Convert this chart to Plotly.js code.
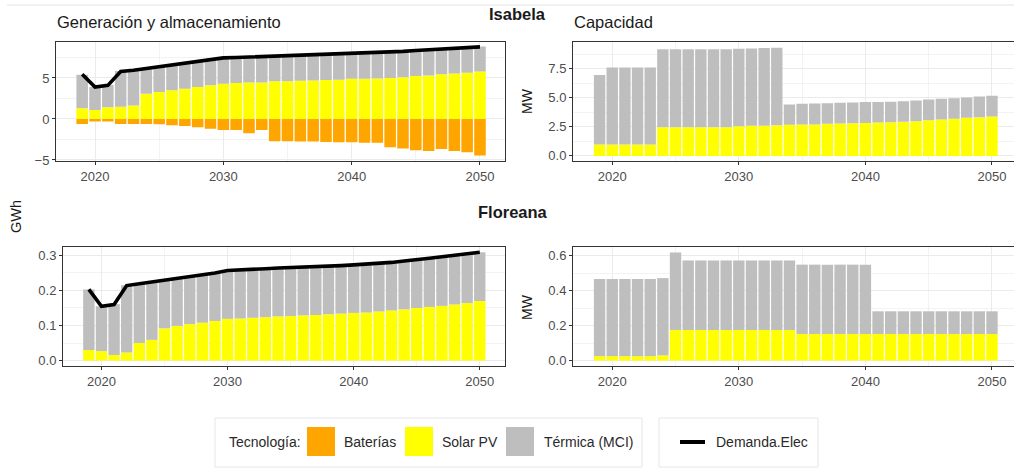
<!DOCTYPE html>
<html>
<head>
<meta charset="utf-8">
<script src="https://cdn.plot.ly/plotly-3.0.1.min.js"></script>
<style>html,body{margin:0;padding:0;background:#fff;}#chart{width:1014px;height:468px;}</style>
</head>
<body>
<div id="chart"></div>
<script>
// ---- Data ----
var years = [2019,2020,2021,2022,2023,2024,2025,2026,2027,2028,2029,2030,2031,2032,2033,2034,2035,2036,2037,2038,2039,2040,2041,2042,2043,2044,2045,2046,2047,2048,2049,2050];

// Isabela - Generación y almacenamiento (GWh)
var isaBaterias = [-0.6,-0.3,-0.3,-0.6,-0.6,-0.6,-0.65,-0.75,-0.85,-1.0,-1.2,-1.35,-1.35,-1.75,-1.35,-2.7,-2.7,-2.75,-2.75,-2.8,-2.85,-2.85,-2.9,-2.9,-3.45,-3.6,-3.8,-3.9,-3.65,-3.9,-4.05,-4.45];
var isaSolar = [1.31,1.1,1.43,1.5,1.64,3.07,3.3,3.5,3.7,3.9,4.1,4.3,4.4,4.45,4.45,4.6,4.6,4.65,4.7,4.75,4.8,4.9,4.9,4.95,5.0,5.1,5.25,5.3,5.45,5.55,5.65,5.8];
var isaGenTotal = [5.4,3.9,4.15,5.85,6.0,6.2,6.4,6.6,6.85,7.05,7.3,7.5,7.55,7.6,7.65,7.7,7.75,7.8,7.85,7.9,7.95,8.05,8.1,8.15,8.2,8.3,8.4,8.5,8.6,8.7,8.8,8.85];
var isaDemanda = [5.45,3.9,4.1,5.8,5.95,6.15,6.35,6.55,6.8,7.0,7.25,7.45,7.5,7.55,7.6,7.65,7.7,7.75,7.8,7.85,7.9,8.0,8.05,8.1,8.15,8.25,8.35,8.45,8.55,8.65,8.75,8.8];

// Isabela - Capacidad (MW)
var isaCapSolar = [0.97,0.97,0.97,0.97,0.97,2.47,2.47,2.47,2.47,2.47,2.47,2.56,2.59,2.6,2.64,2.67,2.7,2.7,2.76,2.79,2.8,2.82,2.87,2.9,2.93,2.99,3.07,3.13,3.2,3.28,3.33,3.39];
var isaCapTotal = [6.95,7.61,7.61,7.61,7.61,9.17,9.17,9.17,9.17,9.17,9.17,9.22,9.25,9.28,9.31,4.43,4.48,4.51,4.54,4.57,4.6,4.63,4.63,4.66,4.71,4.77,4.86,4.91,4.97,5.03,5.11,5.17];

// Floreana - Generación (GWh)
var floSolar = [0.030,0.027,0.016,0.023,0.050,0.059,0.092,0.099,0.104,0.108,0.113,0.119,0.120,0.122,0.124,0.126,0.127,0.129,0.130,0.132,0.134,0.136,0.137,0.140,0.143,0.146,0.150,0.153,0.156,0.160,0.164,0.170];
var floGenTotal = [0.203,0.155,0.161,0.215,0.220,0.225,0.231,0.236,0.241,0.246,0.251,0.258,0.259,0.261,0.263,0.265,0.266,0.268,0.270,0.271,0.272,0.274,0.276,0.278,0.281,0.285,0.290,0.293,0.297,0.301,0.305,0.309];
var floDemanda = [0.203,0.155,0.160,0.214,0.219,0.224,0.230,0.235,0.240,0.245,0.250,0.257,0.258,0.260,0.262,0.264,0.265,0.267,0.269,0.270,0.271,0.273,0.275,0.277,0.280,0.284,0.289,0.292,0.296,0.300,0.304,0.309];

// Floreana - Capacidad (MW)
var floCapSolar = [0.025,0.025,0.025,0.025,0.025,0.030,0.175,0.175,0.175,0.175,0.175,0.175,0.175,0.175,0.175,0.175,0.152,0.152,0.152,0.152,0.152,0.152,0.152,0.152,0.152,0.152,0.152,0.152,0.152,0.152,0.152,0.152];
var floCapTotal = [0.467,0.467,0.467,0.467,0.467,0.472,0.619,0.573,0.573,0.573,0.573,0.573,0.573,0.573,0.573,0.573,0.549,0.549,0.549,0.549,0.549,0.549,0.282,0.282,0.282,0.282,0.282,0.282,0.282,0.282,0.282,0.282];

var seriesNames = ['Baterías','Solar PV','Térmica (MCI)','Demanda.Elec'];
var legendTitle = 'Tecnología:';

// ---- Styling ----
var C_BAT = '#FFA500', C_SOL = '#FFFF00', C_TER = '#BEBEBE';
var W = 1014, H = 468;
function px(x){ return x / W; }
function py(y){ return 1 - y / H; }
function diff(a, b){ return a.map(function(v, i){ return +(v - b[i]).toFixed(4); }); }

function bar(y, color, name, xa, ya){
  return {type:'bar', x: years, y: y, name: name, marker:{color: color, line:{width:0}},
          xaxis: xa, yaxis: ya, showlegend:false, hoverinfo:'x+y+name'};
}
function line(y, xa, ya){
  return {type:'scatter', mode:'lines', x: years, y: y, name: seriesNames[3],
          line:{color:'#000', width:3.6}, xaxis: xa, yaxis: ya, showlegend:false};
}

var traces = [
  bar(isaBaterias, C_BAT, seriesNames[0], 'x', 'y'),
  bar(isaSolar, C_SOL, seriesNames[1], 'x', 'y'),
  bar(diff(isaGenTotal, isaSolar), C_TER, seriesNames[2], 'x', 'y'),
  line(isaDemanda, 'x', 'y'),
  bar(isaCapSolar, C_SOL, seriesNames[1], 'x2', 'y2'),
  bar(diff(isaCapTotal, isaCapSolar), C_TER, seriesNames[2], 'x2', 'y2'),
  bar(floSolar, C_SOL, seriesNames[1], 'x3', 'y3'),
  bar(diff(floGenTotal, floSolar), C_TER, seriesNames[2], 'x3', 'y3'),
  line(floDemanda, 'x3', 'y3'),
  bar(floCapSolar, C_SOL, seriesNames[1], 'x4', 'y4'),
  bar(diff(floCapTotal, floCapSolar), C_TER, seriesNames[2], 'x4', 'y4')
];

var tickFont = {family:'Liberation Sans, Arial, sans-serif', size:13, color:'#4D4D4D'};
function xax(d0, d1, r0, r1, anchor){
  return {domain:[px(d0), px(d1)], range:[r0, r1], anchor: anchor,
    tickvals:[2020,2030,2040,2050], ticks:'outside', ticklen:3, tickcolor:'#333', tickwidth:1,
    showline:true, mirror:true, linecolor:'#333', linewidth:1,
    gridcolor:'#EBEBEB', gridwidth:1, zeroline:false, tickfont: tickFont,
    minor:{tickvals:[2025,2035,2045], showgrid:true, gridcolor:'#EBEBEB', gridwidth:0.6, ticks:''}};
}
function yax(t0, t1, r0, r1, anchor, tv, fmt, mv){
  return {domain:[py(t1), py(t0)], range:[r0, r1], anchor: anchor,
    tickvals: tv, tickformat: fmt, ticks:'outside', ticklen:3, tickcolor:'#333', tickwidth:1,
    showline:true, mirror:true, linecolor:'#333', linewidth:1,
    gridcolor:'#EBEBEB', gridwidth:1, zeroline:false, tickfont: tickFont,
    minor:{tickvals: mv, showgrid:true, gridcolor:'#EBEBEB', gridwidth:0.6, ticks:''}};
}

var txtFont = {family:'Liberation Sans, Arial, sans-serif', size:16, color:'#1a1a1a'};
var legFont = {family:'Liberation Sans, Arial, sans-serif', size:14, color:'#2a2a2a'};

function ann(text, x, y, xanchor, font, extra){
  var a = {text:text, xref:'paper', yref:'paper', x:px(x), y:py(y), xanchor:xanchor, yanchor:'middle',
           showarrow:false, font:font};
  if (extra) for (var k in extra) a[k] = extra[k];
  return a;
}

var annotations = [
  ann('Generación y almacenamiento', 55, 22, 'left', {family:txtFont.family, size:16.5, color:'#1a1a1a'}),
  ann('Capacidad', 572, 22, 'left', {family:txtFont.family, size:16.5, color:'#1a1a1a'}),
  ann('<b>Isabela</b>', 517, 14, 'center', {family:txtFont.family, size:16.5, color:'#1a1a1a'}),
  ann('<b>Floreana</b>', 513, 212, 'center', {family:txtFont.family, size:16.5, color:'#1a1a1a'}),
  ann('GWh', 16, 217, 'center', {family:txtFont.family, size:14.5, color:'#1a1a1a'}, {textangle:-90}),
  ann('MW', 527, 101, 'center', {family:txtFont.family, size:14, color:'#1a1a1a'}, {textangle:-90}),
  ann('MW', 527, 307, 'center', {family:txtFont.family, size:14, color:'#1a1a1a'}, {textangle:-90}),
  ann(legendTitle, 227, 442, 'left', legFont),
  ann(seriesNames[0], 342, 442, 'left', legFont),
  ann(seriesNames[1], 440, 442, 'left', legFont),
  ann(seriesNames[2], 542, 442, 'left', legFont),
  ann(seriesNames[3], 714, 442, 'left', legFont)
];

function rect(x0, y0, x1, y1, fill, lc){
  return {type:'rect', xref:'paper', yref:'paper', x0:px(x0), x1:px(x1), y0:py(y1), y1:py(y0),
          fillcolor: fill, line:{color: lc || 'rgba(0,0,0,0)', width: lc ? 1 : 0}, layer:'above'};
}
var shapes = [
  {type:'line', xref:'paper', yref:'paper', x0:px(7), x1:px(1014), y0:py(5), y1:py(5), line:{color:'#E3E3E3', width:1}},
  rect(215, 418, 642, 467, 'rgba(0,0,0,0)', '#E6E6E6'),
  rect(659, 418, 818, 467, 'rgba(0,0,0,0)', '#E6E6E6'),
  rect(307, 427, 335, 456, C_BAT),
  rect(405, 427, 433, 456, C_SOL),
  rect(506, 427, 534, 456, C_TER),
  {type:'line', xref:'paper', yref:'paper', x0:px(680), x1:px(705), y0:py(442), y1:py(442), line:{color:'#000', width:4}}
];

var layout = {
  width: W, height: H, margin:{l:0, r:0, t:0, b:0},
  paper_bgcolor:'#fff', plot_bgcolor:'#fff',
  barmode:'relative', bargap:0.1, showlegend:false,
  xaxis: xax(56, 505, 2016.96, 2051.95, 'y'),
  yaxis: yax(42, 161.3, -5.16, 9.39, 'x', [-5,0,5], '', [-2.5,2.5,7.5]),
  xaxis2: xax(573, 1014, 2016.9, 2051.74, 'y2'),
  yaxis2: yax(42, 161.3, -0.465, 9.8, 'x2', [0,2.5,5,7.5], '.1f', [1.25,3.75,6.25,8.75]),
  xaxis3: xax(63, 505, 2016.95, 2052.0, 'y3'),
  yaxis3: yax(247, 366, -0.0155, 0.324, 'x3', [0,0.1,0.2,0.3], '.1f', [0.05,0.15,0.25]),
  xaxis4: xax(573, 1014, 2016.9, 2051.74, 'y4'),
  yaxis4: yax(247, 366, -0.031, 0.65, 'x4', [0,0.2,0.4,0.6], '.1f', [0.1,0.3,0.5]),
  annotations: annotations,
  shapes: shapes
};

Plotly.newPlot('chart', traces, layout, {displayModeBar:false, staticPlot:true});
</script>
</body>
</html>
